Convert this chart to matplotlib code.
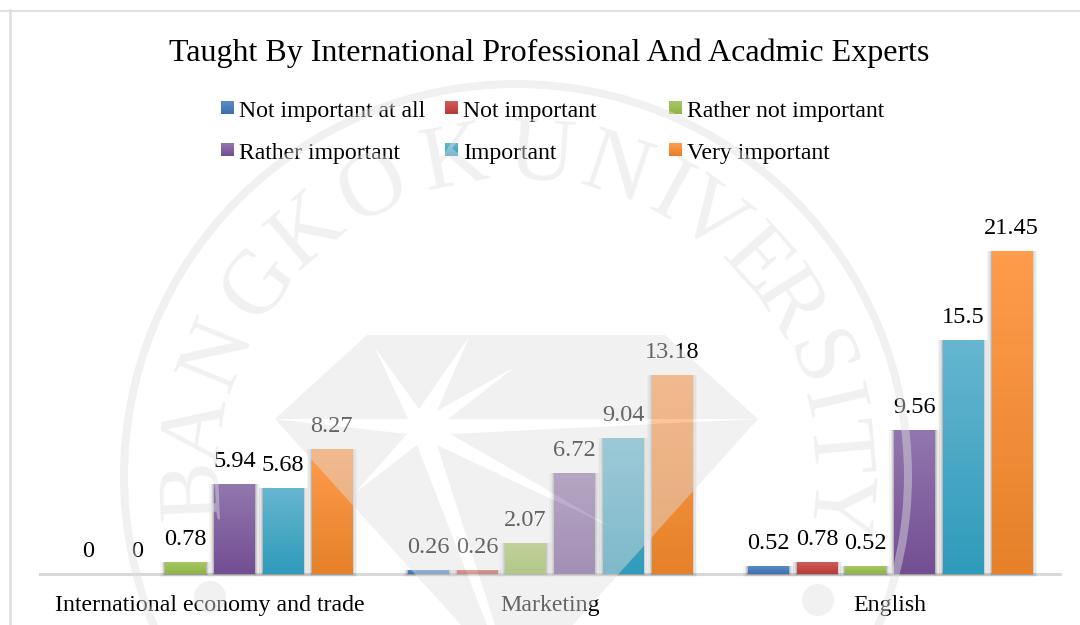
"""Taught by international experts: grouped bars with the university seal watermark."""
import matplotlib
matplotlib.use("Agg")
import matplotlib.pyplot as plt
import numpy as np
from matplotlib.colors import LinearSegmentedColormap
from matplotlib.patches import PathPatch, Polygon, Circle, Wedge
from matplotlib.path import Path

plt.rcParams["font.family"] = ["Liberation Serif", "DejaVu Serif"]

TITLE = "Taught By International Professional And Acadmic Experts"
CATEGORIES = ["International economy and trade", "Marketing", "English"]
SERIES = ["Not important at all", "Not important", "Rather not important",
          "Rather important", "Important", "Very important"]

NOT_AT_ALL = [0, 0.26, 0.52]
NOT_IMPORTANT = [0, 0.26, 0.78]
RATHER_NOT = [0.78, 2.07, 0.52]
RATHER = [5.94, 6.72, 9.56]
IMPORTANT = [5.68, 9.04, 15.5]
VERY = [8.27, 13.18, 21.45]
VALUES = [NOT_AT_ALL, NOT_IMPORTANT, RATHER_NOT, RATHER, IMPORTANT, VERY]

# (top, bottom) of each bar gradient
COLORS = [("#5A8BC9", "#3E70AE"), ("#CF5D5A", "#B83A37"), ("#A8C766", "#8FB443"),
          ("#9277AE", "#734E93"), ("#66B6D0", "#2F9BBB"), ("#FF9C4C", "#E6812A")]

# watermark shapes, in image pixels
SEAL_CENTER = (516, 476)
SEAL_WORD = "BANGKOK"
SEAL_WORD_2 = "UNIVERSITY"
SEAL_ANGLES = [182.4, 171.7, 157.8, 143.2, 130.5, 116.5, 101,
               85.5, 71.8, 61.2, 53, 41.9, 32.5, 21, 13.2, 5, -5.4]
DIAMOND = [(367, 335), (665, 335), (758, 419), (517, 687), (275, 419)]
STAR = [(275, 419), (408, 419), (375, 348), (419, 409), (469, 337), (437, 411),
        (515, 367), (448, 419), (757, 419), (450, 434), (617, 530), (437, 445),
        (495, 625), (495, 700), (487, 700), (487, 625), (417, 445), (355, 493), (407, 434)]

W, H = 1080, 625
BASE_Y = 574
PX = 340  # pixels per category
BAR_W = 40.5 / PX
STEP = 48.7 / PX
WASH = "#E0E0E0"
WASH_A = 0.45


def shade(ax, patch, colors):
    cmap = LinearSegmentedColormap.from_list("g", [colors[0], colors[1]])
    x, y = patch.get_x(), patch.get_y()
    im = ax.imshow(np.linspace(0, 1, 64)[:, None], cmap=cmap, aspect="auto",
                   extent=(x, x + patch.get_width(), y, y + patch.get_height()),
                   zorder=3, origin="upper")
    im.set_clip_path(patch)


fig = plt.figure(figsize=(W / 100, H / 100), dpi=100, facecolor="white")

# chart axes, 40..1060 px wide with the baseline at y=574
scale = 15.08
ytop = 25
height = ytop * scale
ax = fig.add_axes([40 / W, (H - BASE_Y) / H, 1020 / W, height / H])
ax.patch.set_alpha(0)
x = np.arange(len(CATEGORIES))

for i, (vals, cols) in enumerate(zip(VALUES, COLORS)):
    pos = x + (i - 2.5) * STEP
    for grow, alpha in [(10, .04), (7, .06), (4, .09), (2, .12)]:
        w = BAR_W + grow / PX
        for xp, v in zip(pos, vals):
            if v > 0:
                ax.bar(xp, v + 0.02 * grow, width=w, bottom=-0.02 * grow,
                       color="black", alpha=alpha, linewidth=0, zorder=2, clip_on=False)
    bars = ax.bar(pos, vals, width=BAR_W, color=cols[0], linewidth=0, zorder=3)
    for bar, v in zip(bars, vals):
        if v > 0:
            shade(ax, bar, cols)
        ax.annotate(f"{v:g}", (bar.get_x() + BAR_W / 2, v), xytext=(0, 16.2),
                    textcoords="offset points", ha="center", va="center",
                    fontsize=17.5, color="#000000", zorder=5)

ax.set_xlim(-0.5, 2.5)
ax.set_ylim(0, ytop)
ax.set_yticks([])
ax.set_xticks(x, CATEGORIES, fontsize=17.2, color="#000000")
ax.tick_params(axis="x", length=0, pad=15)
for side in ("top", "left", "right"):
    ax.spines[side].set_visible(False)
ax.spines["bottom"].set_color("#D9D9D9")
ax.spines["bottom"].set_linewidth(2.2)
ax.spines["bottom"].set_zorder(1)

# pixel axes for title, legend and frame
top = fig.add_axes([0, 0, 1, 1], zorder=5)
top.axis("off")
top.plot([0, W], [10.7, 10.7], color="#D9D9D9", lw=1.1)
top.plot([10, 10], [10, H], color="#DEDEDE", lw=1.8)
top.text(549.5, 53, TITLE, fontsize=23.05, ha="center", va="center", color="#000000")

legend_x = [221, 445, 669]
legend_y = [108, 150]
for i, (name, cols) in enumerate(zip(SERIES, COLORS)):
    lx, ly = legend_x[i % 3], legend_y[i // 3]
    cmap = LinearSegmentedColormap.from_list("g", [cols[0], cols[1]])
    top.imshow(np.linspace(0, 1, 16)[:, None], cmap=cmap, aspect="auto",
               extent=(lx, lx + 13, ly + 6.5, ly - 6.5), origin="upper")
    top.text(lx + 18, ly + 3, name, fontsize=17.1, ha="left", va="center", color="#000000")
top.set_xlim(0, W)
top.set_ylim(H, 0)

# watermark on top of everything, it washes out bars and text beneath it
wm = fig.add_axes([0, 0, 1, 1], zorder=10)
wm.set_xlim(0, W)
wm.set_ylim(H, 0)
wm.axis("off")
wm.patch.set_alpha(0)

wash = dict(facecolor=WASH, alpha=WASH_A, edgecolor="none")
wm.add_patch(Wedge(SEAL_CENTER, 396, 0, 360, width=8, **wash))
wm.add_patch(Circle((210, 597), 16, **wash))
wm.add_patch(Circle((818, 600), 16, **wash))

codes = [Path.MOVETO] + [Path.LINETO] * (len(DIAMOND) - 1) + [Path.CLOSEPOLY]
star_codes = [Path.MOVETO] + [Path.LINETO] * (len(STAR) - 1) + [Path.CLOSEPOLY]
verts = DIAMOND + [DIAMOND[0]] + STAR[::-1] + [STAR[-1]]
wm.add_patch(PathPatch(Path(verts, codes + star_codes), **wash))
wm.add_patch(Polygon(STAR, closed=True, facecolor="white", alpha=0.45, edgecolor="none"))

for ch, ang in zip(SEAL_WORD + SEAL_WORD_2, SEAL_ANGLES):
    a = np.radians(ang)
    wm.text(SEAL_CENTER[0] + 320 * np.cos(a), SEAL_CENTER[1] - 320 * np.sin(a), ch,
            fontsize=66, rotation=ang - 90, rotation_mode="anchor",
            ha="center", va="center", color=WASH, alpha=WASH_A)

fig.savefig("out.png", dpi=100)
